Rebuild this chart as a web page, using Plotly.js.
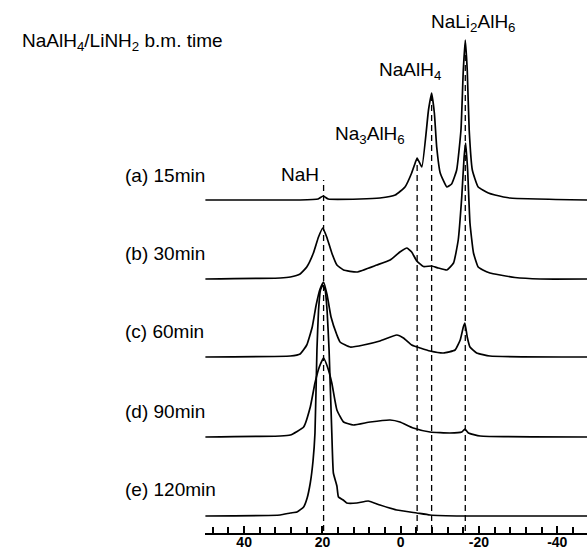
<!DOCTYPE html>
<html>
<head>
<meta charset="utf-8">
<script src="https://cdn.plot.ly/plotly-3.0.1.min.js"></script>
<style>html,body{margin:0;padding:0;background:#fff;}#chart{width:587px;height:557px;}</style>
</head>
<body>
<div id="chart"></div>
<script>
// chemical shift (ppm) and intensity for each spectrum
const ppmA = [49.9, 25.7, 21.1, 19.8, 18.5, 10.4, 5.3, 1.4, -1.1, -2.8, -3.7, -4.2, -5.4, -7.1, -7.9, -8.6, -9.2, -10.1, -11.8, -13.0, -14.3, -15.4, -16.0, -16.5, -17.0, -17.5, -18.3, -19.8, -22.4, -24.1, -27.9, -47.6];
const intA = [0, 0, 1, 4, 1, 1, 2, 5, 13, 27, 37, 42, 33, 90, 107, 87, 53, 27, 13, 16, 30, 70, 130, 160, 130, 70, 30, 13, 7, 5, 2, 0];

const ppmB = [49.9, 30.8, 28.2, 25.7, 24.0, 22.3, 21.0, 19.9, 18.9, 17.6, 16.3, 14.6, 11.2, 6.1, 2.7, 0.2, -1.6, -2.8, -4.1, -5.8, -7.9, -9.6, -11.8, -13.5, -14.7, -15.6, -16.2, -16.6, -17.1, -17.7, -18.6, -19.8, -21.0, -22.8, -25.4, -29.2, -35.6, -47.6];
const intB = [0, 1, 2, 5, 12, 26, 42, 51, 42, 26, 14, 9, 7, 14, 19, 27, 31, 27, 18, 12.5, 13, 11, 9, 16, 39, 82, 122, 136, 109, 56, 26, 12, 9, 6, 4, 1.5, 0, 0];

const ppmC = [49.9, 28.2, 25.7, 24.0, 22.6, 21.6, 20.6, 19.7, 18.8, 17.8, 16.3, 15.5, 12.9, 9.5, 5.3, 1.0, -0.7, -2.8, -5.0, -7.5, -10.9, -13.9, -15.2, -16.0, -16.4, -17.0, -17.7, -19.4, -22.8, -47.6];
const intC = [0, 1, 3, 12, 30, 52, 68, 75, 62, 40, 22, 15, 10, 12, 16, 22, 19, 12, 9, 6, 4, 7, 17, 30, 34, 20, 10, 4, 1, 0];

const ppmD = [49.9, 30.8, 28.2, 24.8, 23.1, 21.9, 20.8, 19.7, 18.7, 17.6, 16.3, 14.6, 12.1, 7.8, 2.7, 0.2, -3.2, -7.5, -12.6, -15.6, -16.4, -17.3, -20.3, -47.6];
const intD = [0, 1, 2, 10, 30, 54, 70, 79, 70, 54, 27, 15, 12, 15, 17, 15, 9, 5, 4, 5, 8, 4, 1, 0];

const ppmE = [49.9, 30.8, 28.2, 26.5, 24.8, 23.9, 23.1, 22.4, 21.9, 21.4, 21.0, 20.5, 19.9, 19.3, 18.8, 18.3, 17.6, 17.2, 16.3, 15.9, 14.7, 13.8, 11.2, 8.3, 5.3, 1.0, -4.1, -7.5, -15.9, -47.6];
const intE = [0, 1, 3, 4, 9, 18, 33, 55, 83, 166, 205, 226, 231, 226, 205, 166, 83, 43, 30, 19, 16, 13, 13, 15, 11, 6, 3, 1, 0, 0];

const sampleLabels = ['(a) 15min', '(b) 30min', '(c) 60min', '(d) 90min', '(e) 120min'];
const stackOffsets = [333, 254, 176, 96, 17];

// x-axis tick values and their labels (hyphen minus, as in the original)
const tickValues = [40, 20, 0, -20, -40];
const tickLabels = ['40', '20', '0', '-20', '-40'];

// reference phases: position (ppm) and top of the dashed marker line
const phaseNames = ['NaH', 'Na<sub>3</sub>AlH<sub>6</sub>', 'NaAlH<sub>4</sub>', 'NaLi<sub>2</sub>AlH<sub>6</sub>'];
const phasePpm = [19.7, -4.2, -7.9, -16.5];
const phaseTop = [353, 373, 437, 491];

const spectra = [[ppmA, intA], [ppmB, intB], [ppmC, intC], [ppmD, intD], [ppmE, intE]];

const traces = [];
spectra.forEach(function (s, i) {
  traces.push({
    x: s[0],
    y: s[1].map(function (v) { return v + stackOffsets[i]; }),
    mode: 'lines', type: 'scatter',
    line: {color: '#000', width: 1.7, shape: 'spline', smoothing: 0.4},
    hoverinfo: 'skip', showlegend: false
  });
});
phasePpm.forEach(function (p, i) {
  traces.push({
    x: [p, p], y: [2, phaseTop[i]],
    mode: 'lines', type: 'scatter',
    line: {color: '#000', width: 1.3, dash: '6px,4px'},
    hoverinfo: 'skip', showlegend: false
  });
});

const L = 205, W = 382, B = 533;
function fx(px) { return (px - L) / W; }
function fy(py) { return (B - py) / B; }

const font = {family: 'Arial, Liberation Sans, sans-serif', size: 19, color: '#000'};
const annotations = [];
annotations.push({text: 'NaAlH<sub>4</sub>/LiNH<sub>2</sub> b.m. time', xref: 'paper', yref: 'paper', x: fx(20), y: fy(42), xanchor: 'left', yanchor: 'middle', showarrow: false, font: font});
const labelY = [175, 253.5, 331.5, 411.5, 490];
sampleLabels.forEach(function (t, i) {
  annotations.push({text: t, xref: 'paper', yref: 'paper', x: fx(123), y: fy(labelY[i]), xanchor: 'left', yanchor: 'middle', showarrow: false, font: font});
});
const phaseLabelX = [279, 333, 377, 429];
const phaseLabelY = [174, 135, 71, 23];
phaseNames.forEach(function (t, i) {
  annotations.push({text: t, xref: 'paper', yref: 'paper', x: fx(phaseLabelX[i]), y: fy(phaseLabelY[i]), xanchor: 'left', yanchor: 'middle', showarrow: false, font: font});
});

const layout = {
  width: 587, height: 557,
  margin: {l: L, r: 0, t: 0, b: 557 - B},
  paper_bgcolor: '#fff', plot_bgcolor: '#fff',
  showlegend: false,
  xaxis: {
    range: [50, -47.6], showgrid: false, zeroline: false,
    showline: true, linecolor: '#000', linewidth: 2,
    ticks: 'inside', ticklen: 7, tickwidth: 1.5, tickcolor: '#000',
    tickmode: 'array', tickvals: tickValues, ticktext: tickLabels, ticklabelstandoff: -5,
    tickfont: {family: 'Arial, Liberation Sans, sans-serif', size: 14, color: '#000', weight: 'bold'},
    minor: {ticks: 'inside', dtick: 4, tick0: 0, ticklen: 6, tickwidth: 1.5, tickcolor: '#000'}
  },
  yaxis: {range: [0, B], visible: false, showgrid: false, zeroline: false},
  annotations: annotations
};

Plotly.newPlot('chart', traces, layout, {displayModeBar: false});
</script>
</body>
</html>
